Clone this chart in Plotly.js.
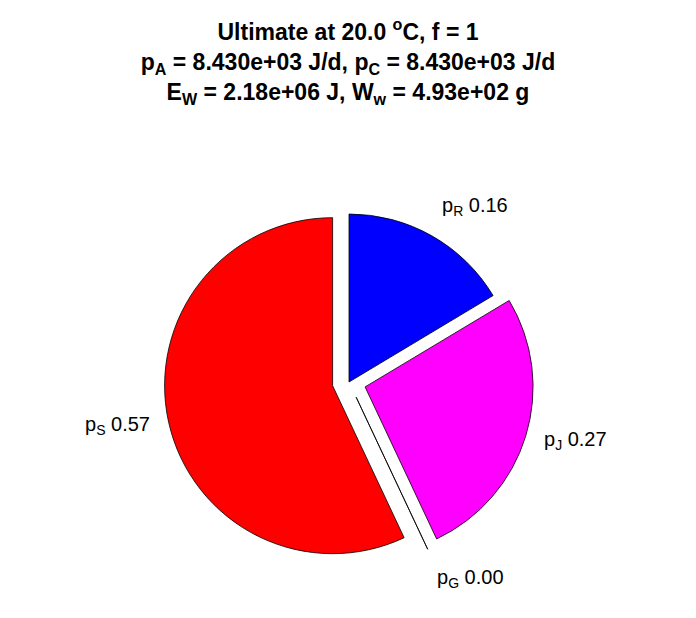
<!DOCTYPE html>
<html><head><meta charset="utf-8">
<script src="https://cdn.plot.ly/plotly-3.0.1.min.js"></script>
<style>html,body{margin:0;padding:0;background:#fff}#chart{width:696px;height:618px}</style>
</head><body><div id="chart"></div>
<script>
// ---- data ----
const sliceNames = ['p<sub>R</sub>', 'p<sub>J</sub>', 'p<sub>G</sub>', 'p<sub>S</sub>'];
const sliceValues = [0.164, 0.266, 0.0, 0.570];
const sliceColors = ['#0000FF', '#FF00FF', '#00FF00', '#FF0000'];
const slicePull = [0, 0.1, 0.1, 0.1];
const titleLines = [
  'Ultimate at 20.0 <sup>o</sup>C, f = 1',
  'p<sub>A</sub> = 8.430e+03 J/d, p<sub>C</sub> = 8.430e+03 J/d',
  'E<sub>W</sub> = 2.18e+06 J, W<sub>w</sub> = 4.93e+02 g'
];

const W = 696, H = 618;
const FONT = 'Liberation Sans, Arial, Helvetica, sans-serif';
const gd = document.getElementById('chart');

const trace = {
  type: 'pie', values: sliceValues, labels: sliceNames, sort: false,
  direction: 'clockwise', rotation: 0, pull: slicePull,
  marker: {colors: sliceColors, line: {color: '#000', width: 0.8}},
  textinfo: 'none', hoverinfo: 'none', showlegend: false,
  domain: {x: [0.2359, 0.7670], y: [0.0828, 0.6809]}
};

const layout = {
  width: W, height: H,
  margin: {l: 0, r: 0, t: 0, b: 0},
  paper_bgcolor: '#fff', plot_bgcolor: '#fff',
  showlegend: false,
  title: {
    text: titleLines.join('<br>'),
    font: {family: FONT, size: 23, color: '#000', weight: 'bold'},
    x: 0.5, xanchor: 'center', xref: 'paper',
    y: 1 - 40 / H, yanchor: 'top', yref: 'container'
  }
};

Plotly.newPlot(gd, [trace], layout, {staticPlot: true}).then(() => {
  const c0 = gd.calcdata[0][0];
  const cx = c0.cx, cy = c0.cy, r = c0.r;
  let cum = 0;
  const anns = [];
  sliceValues.forEach((v, i) => {
    const mid = Math.PI / 2 - 2 * Math.PI * (cum + v / 2);
    cum += v;
    const dx = Math.cos(mid), dy = -Math.sin(mid);
    const ox = cx + slicePull[i] * r * dx, oy = cy + slicePull[i] * r * dy;
    const tx = ox + 1.1 * r * dx, ty = oy + 1.1 * r * dy;
    anns.push({
      xref: 'paper', yref: 'paper', x: tx / W, y: 1 - ty / H,
      text: sliceNames[i] + ' ' + v.toFixed(2), showarrow: false,
      xanchor: dx < 0 ? 'right' : 'left',
      yanchor: Math.abs(dy) < 0.5 ? 'middle' : (dy < 0 ? 'bottom' : 'top'),
      font: {family: FONT, size: 20, color: '#000'}
    });
  });
  return Plotly.relayout(gd, {annotations: anns});
});
</script>
</body></html>
